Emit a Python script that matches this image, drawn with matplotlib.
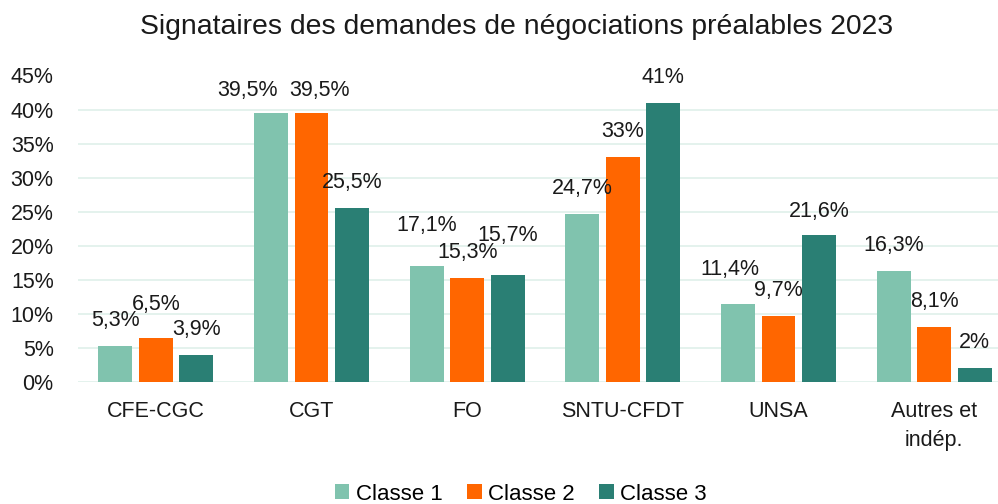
import numpy as np
import matplotlib

matplotlib.use("Agg")
import matplotlib.pyplot as plt
from matplotlib.patches import Patch

categories = ["CFE-CGC", "CGT", "FO", "SNTU-CFDT", "UNSA", "Autres et\nindép."]
series_names = ["Classe 1", "Classe 2", "Classe 3"]
classe1 = [5.3, 39.5, 17.1, 24.7, 11.4, 16.3]
classe2 = [6.5, 39.5, 15.3, 33.0, 9.7, 8.1]
classe3 = [3.9, 25.5, 15.7, 41.0, 21.6, 2.0]
label_texts = [
    ["5,3%", "39,5%", "17,1%", "24,7%", "11,4%", "16,3%"],
    ["6,5%", "39,5%", "15,3%", "33%", "9,7%", "8,1%"],
    ["3,9%", "25,5%", "15,7%", "41%", "21,6%", "2%"],
]
y_ticks = [0, 5, 10, 15, 20, 25, 30, 35, 40, 45]

colors = ["#80c3ae", "#ff6600", "#2a7f74"]

# label nudges in pixels (dx, dy above bar top), the rest sit 25.5 px above
default_off = (0, 25.5)
label_off = {
    (1, 0): (0, 33),
    (0, 1): (-24, 22.5), (1, 1): (7.5, 22.5),
    (0, 2): (0, 40), (2, 2): (0, 40),
    (0, 4): (-8, 35), (2, 4): (0, 23),
}

plt.rcParams["font.family"] = ["Liberation Sans", "DejaVu Sans"]
px = 72 / 100

fig = plt.figure(figsize=(9.98, 5.04), dpi=100)
ax = fig.add_axes([78 / 998, 122 / 504, 920 / 998, 306.5 / 504])

x = np.arange(len(categories))
width = 0.218
step = 0.26
for i, (vals, name, col) in enumerate(zip([classe1, classe2, classe3], series_names, colors)):
    pos = x + (i - 1) * step
    ax.bar(pos, vals, width=width, color=col, label=name, zorder=2)
    for j, (xp, v, t) in enumerate(zip(pos, vals, label_texts[i])):
        dx, dy = label_off.get((i, j), default_off)
        ax.annotate(t, (xp, v), xytext=(dx * px, dy * px), textcoords="offset points",
                    ha="center", va="center", fontsize=15.5, color="#1a1a1a")

ax.set_xlim(-0.5, 5.41)
ax.set_ylim(0, 45)
ax.set_yticks(y_ticks)
ax.set_yticklabels([f"{t}%" for t in y_ticks], fontsize=15.5, color="#1a1a1a")
ax.set_xticks(x)
ax.set_xticklabels(categories, fontsize=15.5, color="#1a1a1a", linespacing=1.45)
ax.tick_params(axis="both", length=0)
ax.tick_params(axis="x", pad=14)
ax.tick_params(axis="y", pad=17.5)
ax.grid(axis="y", color="#e2f1ec", linewidth=1.3, zorder=0)
for s in ax.spines.values():
    s.set_visible(False)

fig.text(517 / 998, 1 - 27 / 504, "Signataires des demandes de négociations préalables 2023",
         ha="center", va="center", fontsize=20.4, color="#1a1a1a")

handles = [Patch(facecolor=c, label=n) for c, n in zip(colors, series_names)]
fig.legend(handles=handles, loc="center", bbox_to_anchor=(521 / 998, 1 - 494 / 504),
           ncol=3, frameon=False, fontsize=16, handlelength=0.65, handleheight=0.65,
           handletextpad=0.3, columnspacing=1.1, borderaxespad=0)

fig.savefig("out.png", dpi=100)
